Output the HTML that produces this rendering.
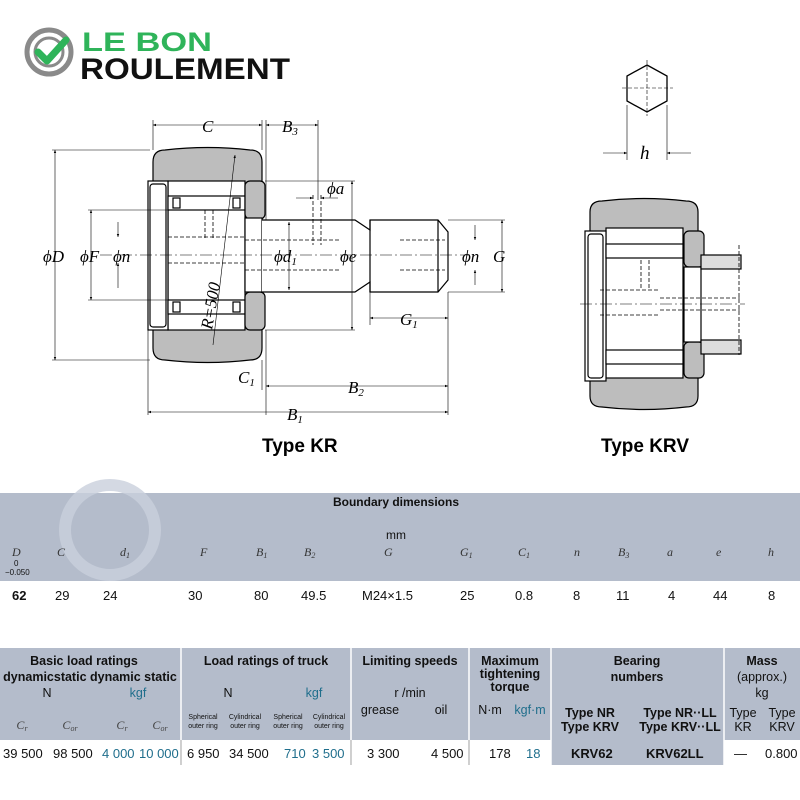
<!DOCTYPE html>
<html><head><meta charset="utf-8"><style>
html,body{margin:0;padding:0;background:#fff;width:800px;height:800px;overflow:hidden}
svg{display:block}
.s{font-family:"Liberation Sans",sans-serif}
.i{font-family:"Liberation Serif",serif;font-style:italic}
</style></head><body>
<svg width="800" height="800" viewBox="0 0 800 800" xmlns="http://www.w3.org/2000/svg">
<defs>
<marker id="a" viewBox="0 0 10 10" refX="10" refY="5" markerWidth="7" markerHeight="5" orient="auto-start-reverse"><path d="M0,1L10,5L0,9z" fill="#000"/></marker>
</defs>
<!-- logo -->
<g>
<circle cx="49" cy="52" r="22" fill="none" stroke="#8a8a8a" stroke-width="5"/>
<circle cx="49" cy="52" r="14" fill="none" stroke="#8a8a8a" stroke-width="3"/>
<path d="M38,52 L47,61 L66,40" fill="none" stroke="#2fb45a" stroke-width="7" stroke-linecap="round" stroke-linejoin="round"/>
<text x="82" y="51" class="s" font-size="27" font-weight="bold" fill="#2fb45a" textLength="130" lengthAdjust="spacingAndGlyphs">LE BON</text>
<text x="80" y="79" class="s" font-size="30" font-weight="bold" fill="#111" textLength="210" lengthAdjust="spacingAndGlyphs">ROULEMENT</text>
</g>
<!-- Type KR drawing -->
<g stroke="#000" stroke-width="1.2" fill="none">
<path d="M153,162 Q153,150 165,150 Q208,145 250,150 Q262,150 262,162 L262,348 Q262,360 250,360 Q208,365 165,360 Q153,360 153,348 Z" fill="#bdbdbd"/>
<rect x="168" y="181" width="77" height="149" fill="#fff"/>
<rect x="148" y="181" width="20" height="149" fill="#fff"/>
<rect x="150" y="184" width="16" height="143" rx="3" fill="#fff"/>
<rect x="168" y="196" width="77" height="14" fill="#fff"/>
<rect x="168" y="300" width="77" height="14" fill="#fff"/>
<rect x="173" y="198" width="7" height="10" fill="#fff"/><rect x="233" y="198" width="7" height="10" fill="#fff"/>
<rect x="173" y="302" width="7" height="10" fill="#fff"/><rect x="233" y="302" width="7" height="10" fill="#fff"/>
<rect x="245" y="181" width="20" height="38" rx="5" fill="#bdbdbd"/>
<rect x="245" y="292" width="20" height="38" rx="5" fill="#bdbdbd"/>
<rect x="245" y="218" width="17" height="74" fill="#fff"/>
<path d="M262,220 L355,220 L370,230 L370,220 L438,220 L448,232 L448,280 L438,292 L370,292 L370,282 L355,292 L262,292" fill="#fff"/>
<line x1="370" y1="220" x2="370" y2="292"/><line x1="438" y1="220" x2="438" y2="292"/>
</g>
<g stroke="#000" stroke-width="0.8" fill="none" stroke-dasharray="4,2">
<path d="M205,210 V240 M213,210 V240"/>
<path d="M168,237 H245 M168,263 H245 M245,240 H340 M245,270 H340"/>
<path d="M313,195 V245 M321,195 V245"/>
<path d="M400,240 H445 M400,270 H445"/>
</g>
<line x1="100" y1="255" x2="470" y2="255" stroke="#000" stroke-width="0.6" stroke-dasharray="12,3,2,3"/>
<!-- dims -->
<g stroke="#000" stroke-width="0.6" fill="none">
<line x1="52" y1="150" x2="150" y2="150"/><line x1="52" y1="360" x2="150" y2="360"/>
<line x1="55" y1="150" x2="55" y2="360" marker-start="url(#a)" marker-end="url(#a)"/>
<line x1="88" y1="210" x2="168" y2="210"/><line x1="88" y1="300" x2="168" y2="300"/>
<line x1="91" y1="210" x2="91" y2="300" marker-start="url(#a)" marker-end="url(#a)"/>
<line x1="118" y1="222" x2="118" y2="237" marker-end="url(#a)"/><line x1="118" y1="288" x2="118" y2="263" marker-end="url(#a)"/>
<line x1="153" y1="120" x2="153" y2="150"/><line x1="262" y1="120" x2="262" y2="150"/>
<line x1="153" y1="125" x2="262" y2="125" marker-start="url(#a)" marker-end="url(#a)"/>
<line x1="266" y1="120" x2="266" y2="220"/><line x1="318" y1="120" x2="318" y2="200"/>
<line x1="266" y1="125" x2="318" y2="125" marker-start="url(#a)" marker-end="url(#a)"/>
<line x1="296" y1="198" x2="313" y2="198" marker-end="url(#a)"/><line x1="338" y1="198" x2="321" y2="198" marker-end="url(#a)"/>
<line x1="265" y1="181" x2="355" y2="181"/><line x1="265" y1="330" x2="355" y2="330"/>
<line x1="352" y1="181" x2="352" y2="330" marker-start="url(#a)" marker-end="url(#a)"/>
<line x1="289" y1="222" x2="289" y2="290" marker-start="url(#a)" marker-end="url(#a)"/>
<line x1="448" y1="220" x2="505" y2="220"/><line x1="448" y1="292" x2="505" y2="292"/>
<line x1="502" y1="220" x2="502" y2="292" marker-start="url(#a)" marker-end="url(#a)"/>
<line x1="475" y1="225" x2="475" y2="240" marker-end="url(#a)"/><line x1="475" y1="285" x2="475" y2="270" marker-end="url(#a)"/>
<line x1="370" y1="292" x2="370" y2="325"/><line x1="448" y1="292" x2="448" y2="415"/>
<line x1="370" y1="318" x2="448" y2="318" marker-start="url(#a)" marker-end="url(#a)"/>
<line x1="148" y1="330" x2="148" y2="415"/><line x1="262" y1="360" x2="262" y2="390"/><line x1="266" y1="330" x2="266" y2="415"/>
<line x1="266" y1="386" x2="448" y2="386" marker-start="url(#a)" marker-end="url(#a)"/>
<line x1="148" y1="412" x2="448" y2="412" marker-start="url(#a)" marker-end="url(#a)"/>
<line x1="213" y1="345" x2="235" y2="155" marker-end="url(#a)"/>
</g>
<g class="i" font-size="17" fill="#000">
<text x="43" y="262">ϕD</text><text x="80" y="262">ϕF</text><text x="113" y="262">ϕn</text>
<text x="202" y="132">C</text><text x="282" y="132">B<tspan font-size="11" dy="3">3</tspan></text>
<text x="327" y="194">ϕa</text>
<text x="274" y="262">ϕd<tspan font-size="11" dy="3">1</tspan></text>
<text x="340" y="262">ϕe</text><text x="462" y="262">ϕn</text><text x="493" y="262">G</text>
<text x="400" y="325">G<tspan font-size="11" dy="3">1</tspan></text>
<text x="238" y="383">C<tspan font-size="11" dy="3">1</tspan></text>
<text x="348" y="393">B<tspan font-size="11" dy="3">2</tspan></text>
<text x="287" y="420">B<tspan font-size="11" dy="3">1</tspan></text>
<text transform="translate(212,330) rotate(-80)" font-size="17">R=500</text>
</g>
<text x="262" y="452" class="s" font-size="19" font-weight="bold">Type KR</text>
<!-- hex -->
<g stroke="#000" fill="none">
<path d="M647,65 L667,76 L667,101 L647,112 L627,101 L627,76 Z" stroke-width="1.3"/>
<line x1="647" y1="60" x2="647" y2="116" stroke-width="0.6" stroke-dasharray="4,2"/>
<line x1="622" y1="88" x2="673" y2="88" stroke-width="0.6" stroke-dasharray="4,2"/>
<line x1="627" y1="105" x2="627" y2="160" stroke-width="0.6"/><line x1="667" y1="105" x2="667" y2="160" stroke-width="0.6"/>
<line x1="603" y1="153" x2="627" y2="153" stroke-width="0.6" marker-end="url(#a)"/>
<line x1="691" y1="153" x2="667" y2="153" stroke-width="0.6" marker-end="url(#a)"/>
</g>
<text x="640" y="159" class="i" font-size="19">h</text>
<!-- KRV -->
<g stroke="#000" stroke-width="1.2" fill="none">
<path d="M590,212 Q590,201 602,201 Q644,196 686,201 Q698,201 698,212 L698,396 Q698,407 686,407 Q644,412 602,407 Q590,407 590,396 Z" fill="#bdbdbd"/>
<rect x="606" y="228" width="77" height="150" fill="#fff"/>
<rect x="585" y="231" width="21" height="150" fill="#fff"/>
<rect x="588" y="234" width="15" height="144" rx="3" fill="#fff"/>
<rect x="606" y="244" width="77" height="14" fill="#fff"/>
<rect x="606" y="350" width="77" height="14" fill="#fff"/>
<rect x="684" y="231" width="20" height="36" rx="5" fill="#bdbdbd"/>
<rect x="684" y="342" width="20" height="36" rx="5" fill="#bdbdbd"/>
<rect x="684" y="267" width="17" height="75" fill="#fff"/>
<rect x="701" y="255" width="40" height="14" fill="#ddd"/>
<rect x="701" y="340" width="40" height="14" fill="#ddd"/>
</g>
<g stroke="#000" stroke-width="0.8" fill="none" stroke-dasharray="4,2">
<path d="M641,260 V290 M649,260 V290 M600,290 H660 M600,315 H660 M660,298 H740 M660,310 H740"/>
<line x1="739" y1="245" x2="739" y2="355"/>
</g>
<line x1="580" y1="304" x2="745" y2="304" stroke="#000" stroke-width="0.6" stroke-dasharray="12,3,2,3"/>
<text x="601" y="452" class="s" font-size="19" font-weight="bold">Type KRV</text>
<!-- table 1 -->
<rect x="0" y="493" width="800" height="88" fill="#b4bccb"/>
<circle cx="110" cy="530" r="45" fill="none" stroke="#c9d0dc" stroke-width="12" opacity="0.8"/>
<g class="s" font-size="12" fill="#111">
<text x="396" y="506" text-anchor="middle" font-weight="bold">Boundary dimensions</text>
<text x="396" y="539" text-anchor="middle">mm</text>
</g>
<g class="i" font-size="12" fill="#333">
<text x="12" y="556">D</text><text x="57" y="556">C</text><text x="120" y="556">d<tspan font-size="8" dy="2">1</tspan></text><text x="200" y="556">F</text>
<text x="256" y="556">B<tspan font-size="8" dy="2">1</tspan></text><text x="304" y="556">B<tspan font-size="8" dy="2">2</tspan></text><text x="384" y="556">G</text><text x="460" y="556">G<tspan font-size="8" dy="2">1</tspan></text>
<text x="518" y="556">C<tspan font-size="8" dy="2">1</tspan></text><text x="574" y="556">n</text><text x="618" y="556">B<tspan font-size="8" dy="2">3</tspan></text><text x="667" y="556">a</text>
<text x="716" y="556">e</text><text x="768" y="556">h</text>
</g>
<g class="s" font-size="8" fill="#111"><text x="14" y="566">0</text><text x="5" y="575">−0.050</text></g>
<g class="s" font-size="13" fill="#111">
<text x="12" y="600" font-weight="bold">62</text><text x="55" y="600">29</text><text x="103" y="600">24</text>
<text x="188" y="600">30</text><text x="254" y="600">80</text><text x="301" y="600">49.5</text>
<text x="362" y="600">M24×1.5</text><text x="460" y="600">25</text><text x="515" y="600">0.8</text>
<text x="573" y="600">8</text><text x="616" y="600">11</text><text x="668" y="600">4</text>
<text x="713" y="600">44</text><text x="768" y="600">8</text>
</g>
<!-- table 2 -->
<rect x="0" y="648" width="800" height="92" fill="#b4bccb"/>
<rect x="551" y="740" width="173" height="25" fill="#b4bccb"/>
<g stroke="#fff" stroke-width="1.5"><line x1="181" y1="648" x2="181" y2="740"/><line x1="351" y1="648" x2="351" y2="740"/><line x1="469" y1="648" x2="469" y2="740"/><line x1="551" y1="648" x2="551" y2="765"/><line x1="724" y1="648" x2="724" y2="765"/></g>
<g stroke="#888" stroke-width="0.8"><line x1="181" y1="740" x2="181" y2="765"/><line x1="351" y1="740" x2="351" y2="765"/><line x1="469" y1="740" x2="469" y2="765"/></g>
<g class="s" font-size="12.5" font-weight="bold" fill="#111" text-anchor="middle">
<text x="84" y="665">Basic load ratings</text>
<text x="266" y="665">Load ratings of truck</text>
<text x="410" y="665">Limiting speeds</text>
<text x="510" y="665">Maximum</text><text x="510" y="678">tightening</text><text x="510" y="691">torque</text>
<text x="637" y="665">Bearing</text><text x="637" y="681">numbers</text>
<text x="762" y="665">Mass</text>
<text x="90" y="681">dynamicstatic  dynamic static</text>
<text x="590" y="717">Type NR</text><text x="590" y="731">Type KRV</text>
<text x="680" y="717">Type NR··LL</text><text x="680" y="731">Type KRV··LL</text>
</g>
<g class="s" font-size="12.5" fill="#111" text-anchor="middle">
<text x="47" y="697">N</text><text x="138" y="697" fill="#1f6e8c">kgf</text>
<text x="228" y="697">N</text><text x="314" y="697" fill="#1f6e8c">kgf</text>
<text x="410" y="697">r /min</text><text x="380" y="714">grease</text><text x="441" y="714">oil</text>
<text x="490" y="714">N·m</text><text x="530" y="714" fill="#1f6e8c">kgf·m</text>
<text x="762" y="681">(approx.)</text><text x="762" y="697">kg</text>
<text x="743" y="717">Type</text><text x="743" y="731">KR</text><text x="782" y="717">Type</text><text x="782" y="731">KRV</text>
</g>
<g class="s" font-size="7" fill="#111" text-anchor="middle">
<text x="203" y="719">Spherical</text><text x="203" y="728">outer ring</text>
<text x="245" y="719">Cylindrical</text><text x="245" y="728">outer ring</text>
<text x="288" y="719">Spherical</text><text x="288" y="728">outer ring</text>
<text x="329" y="719">Cylindrical</text><text x="329" y="728">outer ring</text>
</g>
<g class="i" font-size="12" fill="#444" text-anchor="middle">
<text x="22" y="729">C<tspan font-size="8" dy="2">r</tspan></text><text x="70" y="729">C<tspan font-size="8" dy="2">or</tspan></text><text x="122" y="729">C<tspan font-size="8" dy="2">r</tspan></text><text x="160" y="729">C<tspan font-size="8" dy="2">or</tspan></text>
</g>
<g class="s" font-size="13" fill="#111">
<text x="3" y="758">39 500</text><text x="53" y="758">98 500</text>
<text x="102" y="758" fill="#1f6e8c">4 000</text><text x="139" y="758" fill="#1f6e8c">10 000</text>
<text x="187" y="758">6 950</text><text x="229" y="758">34 500</text>
<text x="284" y="758" fill="#1f6e8c">710</text><text x="312" y="758" fill="#1f6e8c">3 500</text>
<text x="367" y="758">3 300</text><text x="431" y="758">4 500</text>
<text x="489" y="758">178</text><text x="526" y="758" fill="#1f6e8c">18</text>
<text x="571" y="758" font-weight="bold">KRV62</text><text x="646" y="758" font-weight="bold">KRV62LL</text>
<text x="734" y="758">—</text><text x="765" y="758">0.800</text>
</g>
</svg>
</body></html>
